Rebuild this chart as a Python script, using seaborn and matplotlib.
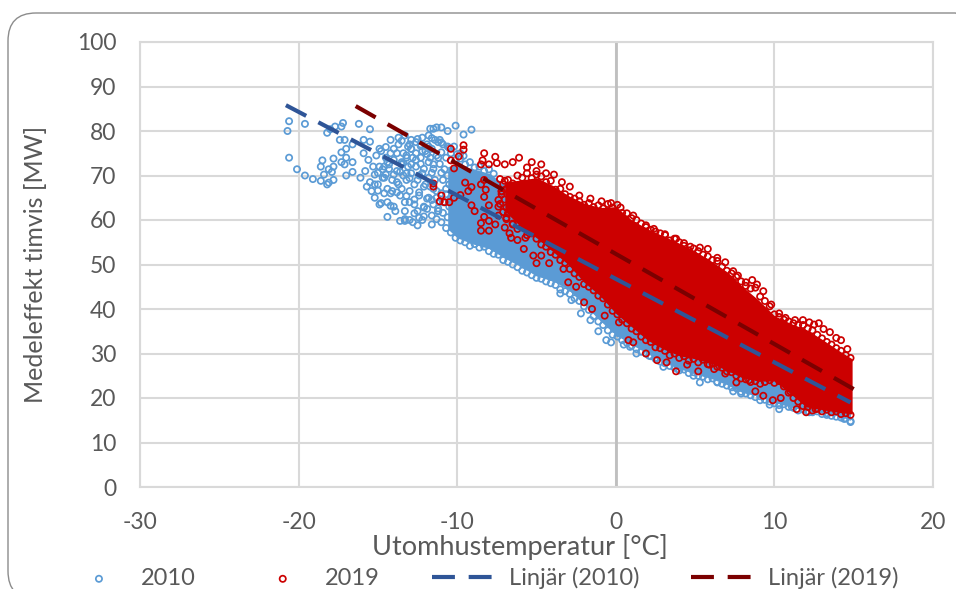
import matplotlib.pyplot as plt
import pandas as pd
import seaborn as sns
from matplotlib.patches import FancyBboxPatch
from matplotlib.transforms import IdentityTransform

# single points, sparse parts of the clouds
blue_x = [-20.7, -20.6, -19.6, -20.6, -20.1, -19.6, -19.1, -18.6, -18.2, -18.2, -18.0, -17.7, -17.2, -17.3, -17.4, -17.1,
          -16.2, -15.5, -18.5, -18.6, -18.1, -17.8, -17.8, -17.3, -17.0, -18.4, -17.9, -17.8, -18.1, -17.0, -17.3, -17.0,
          -16.6, -17.1, -16.6, -15.9, -15.5, -16.6, -14.9, -14.5, -14.2, -13.7, -13.3, -12.9, -12.6, -12.2, -11.8, -11.5,
          -11.3, -11.1, -10.9, -10.6, -10.1, -9.6, -9.1, -15.9, -15.6, -15.3, -15.1, -14.8, -14.5, -14.3, -14.0, -13.7,
          -13.4, -13.1, -16.1, -15.8, -15.5, -15.2, -14.9, -14.6, -14.3, -14.0, -13.8, -13.5, -13.2, -12.9, -15.7, -15.4,
          -15.0, -14.7, -14.4, -14.1, -13.8, -13.5, -13.2, -12.9, -12.6, -15.2, -14.9, -14.6, -14.4, -14.1, -13.8, -13.5,
          -13.2, -12.9, -12.6, -12.3, -14.8, -14.4, -14.2, -13.9, -13.6, -13.3, -13.0, -12.7, -12.4, -12.1, -11.8, -14.0,
          -13.6, -13.3, -13.0, -12.7, -12.4, -12.1, -11.8, -11.5, -11.2, -13.3, -13.0, -12.7, -12.4, -12.1, -11.8, -11.5,
          -12.8, -12.5, -12.2, -11.9, -11.6, -11.3, -14.2, -13.7, -13.4, -13.1, -12.6, -12.2, -14.6, -13.2, -12.9, -12.3,
          -12.0, -11.7, -13.3, -12.5, -12.1, -11.6, -11.2, -10.9, -11.8, -11.4, -11.0, -10.6, -10.2, -9.8, -11.7, -11.2,
          -3.5, -2.8, -2.2, -1.6, -1.1, -0.6, -0.3, 0.2, 0.5, 0.9, 1.3, 1.7, 2.1, 2.6, 3.0, 3.4, 3.9, 4.4, 4.9, 5.3, 5.7,
          5.9, 6.4, 6.9, 7.4, 7.9, 8.4, 9.1, 9.7, 10.3, 11.1, 12.2, 13.3, 14.4, 14.8]
blue_y = [80.0, 82.2, 81.6, 74.0, 71.4, 70.0, 69.2, 68.8, 68.0, 79.6, 80.4, 81.0, 81.8, 81.0, 78.0, 78.0,
          81.6, 80.4, 73.4, 72.0, 71.4, 72.0, 73.8, 75.2, 76.0, 70.2, 70.8, 69.0, 68.4, 70.0, 73.0, 74.0,
          73.0, 72.5, 70.8, 78.0, 77.6, 77.0, 76.0, 76.4, 78.0, 78.5, 79.0, 78.0, 77.5, 78.5, 79.0, 80.5,
          80.8, 78.0, 77.0, 76.5, 81.2, 79.2, 80.3, 75.0, 73.5, 72.0, 74.5, 75.5, 74.0, 72.5, 76.0, 77.0,
          75.0, 76.5, 69.5, 71.0, 68.5, 70.2, 72.0, 69.5, 71.5, 73.5, 75.0, 73.0, 74.5, 76.0, 67.5, 66.5,
          68.0, 69.5, 67.0, 69.0, 71.0, 72.5, 70.5, 72.5, 75.0, 65.0, 63.5, 66.0, 64.0, 66.5, 68.5, 67.0,
          69.0, 70.5, 72.0, 74.0, 63.8, 60.7, 63.2, 62.0, 65.5, 64.0, 66.5, 68.0, 70.0, 71.5, 73.0, 63.0,
          59.8, 62.0, 60.0, 63.5, 65.5, 67.5, 69.5, 71.5, 74.0, 59.8, 64.0, 61.5, 60.5, 63.0, 65.0, 67.0,
          59.5, 62.0, 60.0, 62.5, 64.5, 66.5, 66.0, 68.0, 70.0, 72.0, 73.5, 75.5, 72.0, 74.0, 76.0, 77.0,
          75.5, 74.0, 60.2, 58.8, 60.8, 59.0, 62.0, 64.0, 76.5, 78.0, 80.8, 80.0, 76.5, 75.0, 80.5, 77.5,
          43.5, 42.0, 39.0, 37.5, 35.0, 33.0, 32.5, 34.5, 32.0, 31.5, 30.0, 33.5, 29.5, 29.0, 27.0, 30.0,
          26.5, 28.0, 25.0, 23.5, 25.5, 26.0, 23.5, 24.5, 21.5, 21.0, 23.0, 19.5, 18.5, 17.5, 18.0, 16.8, 16.2, 15.3, 14.6]

# lower rim of the 2010 cloud
blue_low_x = [-11, -10.7, -10.4, -10.1, -9.8, -9.5, -9.2, -8.9, -8.6, -8.3, -8, -7.7, -7.4, -7.1, -6.8, -6.5, -6.2, -5.9,
              -5.6, -5.3, -5, -4.7, -4.4, -4.1, -3.8, -3.5, -3.2, -2.9, -2.6, -2.3, -2, -1.7, -1.4, -1.1, -0.8, -0.5, -0.2,
              0.1, 0.4, 0.7, 1, 1.3, 1.6, 1.9, 2.2, 2.5, 2.8, 3.1, 3.4, 3.7, 4, 4.3, 4.6, 4.9, 5.2, 5.5, 5.8, 6.1, 6.4, 6.7,
              7, 7.3, 7.6, 7.9, 8.2, 8.5, 8.8, 9.1, 9.4, 9.7, 10, 10.3, 10.6, 10.9, 11.2, 11.5, 11.8, 12.1, 12.4, 12.7, 13,
              13.3, 13.6, 13.9, 14.2, 14.5, 14.8]
blue_low_y = [59.5, 58.2, 57.2, 56, 55.4, 55, 54.2, 54.6, 53.8, 54, 53, 52.4, 52.2, 51, 50.6, 50, 49.4, 48.6,
              48.2, 47.6, 47, 46.8, 46.2, 45.8, 45.4, 44.4, 44, 43.4, 42.4, 41.8, 40.6, 39.8, 38.4, 37.2, 36.4, 35.2, 34.2,
              33.8, 33, 32.4, 31.8, 31, 30.4, 30, 29.4, 28.8, 28.2, 27.8, 27.2, 26.8, 26.2, 26.4, 25.6, 25.8, 25, 24.8, 24.2, 24.4, 23.6, 23.2,
              22.8, 22.4, 22.2, 21.4, 21, 20.6, 20.2, 20.4, 19.6, 19.2, 18.8, 18.4, 18.6, 18, 17.8, 17.2, 17.4, 17, 16.8, 17, 16.4,
              16.6, 16, 15.8, 15.6, 15.4, 14.8]

# denser left part of the 2010 cloud
blue_top_x = [-11.6, -11.3, -11, -10.7, -10.4, -10.1, -9.8, -9.5, -9.2, -8.9, -8.6, -8.3, -8, -7.7, -11.5, -11.6, -11.4,
              -11.7, -11.3, -11.5, -11.2, -11.6, -12, -12.2, -11.9, -12.1, -12.4, -12.7, -12.5, -13, -13.4, -13.6, -14,
              -14.4, -14.7, -15, -12.8, -12.3, -11.9, -12.3, -11.9, -13, -13.5, -14.2, -12.5, -11.6, -11, -10.5, -10, -9.6,
              -13.8, -13.2, -14.5, -15.2, -15,
              -11.1, -10.8, -10.6, -10.9, -10.5, -10.7, -11, -10.4, -10.8, -10.5, -11.2, -10.9, -10.6, -11.3, -11, -10.7]
blue_top_y = [76, 74.5, 75.2, 74, 75, 73.5, 73.8, 72.5, 73, 71.8, 72, 71, 71.4, 70.4, 72.5, 70.6, 69,
              67.5, 65, 63.5, 62, 61, 68, 70.5, 64.8, 62.8, 66.2, 64.6, 69, 69.4, 72.8, 70.8, 70.2,
              73, 71.4, 70.6, 74, 72.6, 74.8, 76.6, 77, 77, 77.8, 75, 78.2, 78.4, 77.4, 76.2, 74.8, 74.4,
              66.2, 65.4, 70.2, 68, 66.6,
              72.6, 71.4, 70, 69, 68, 67, 66, 65, 64, 63, 62.6, 61.6, 60.6, 60.2, 70.6, 65.8]

red_x = [-10.4, -9.6, -9.6, -9.9, -10.4, -10.2, -8.3, -8.4, -8.5, -8.0, -7.6, -7.5, -7.0, -6.5, -6.1, -5.3, -4.7,
         -5.6, -5.0, -11.5, -11.5, -11.0, -11.1, -10.8, -10.5, -10.2, -9.8, -9.5, -9.1, -9.3, -9.1, -8.9, -8.3, -8.5,
         -8.2, -8.3, -8.0, -8.3, -8.5, -8.0, -8.5, -8.0, -7.6, -7.4, -7.4, -7.0, -6.7, -6.6, -6.2, -5.7, -5.8, -5.2,
         -4.7, -5.0, -4.2, -3.3, -7.2, -6.9, -6.5, -4.4, -3.9, -3.4, -2.9, -2.3, -1.6, -0.9, -0.3, 0.3,
         1.1, 1.9, 2.4, 3.1, 3.8, 4.3, 4.7, 5.3, 5.8, 6.4, 6.9, 7.4, 7.7, 8.2, 8.6, 8.9, 9.3, 9.8, 10.3, 10.7, 11.3,
         11.8, 12.2, 12.5, 12.8, 13.1, 13.5, 13.9, 14.2, 14.6,
         -3.0, -2.5, -2.0, -1.5, -0.7, 0.2, 0.8, 1.1, 1.9, 2.6, 3.2, 3.8, 4.5, 5.2, 5.9, 6.2, 6.9, 7.6, 8.4, 8.8, 9.3,
         9.9, 10.4, 11.0, 11.4, 12.0, 12.6, 13.2,
         -7.3, -7.1, -6.9, -7.2, -7.0, -7.3, -6.9, -7.1, -7.4, -7.0, -7.2, -6.9]
red_y = [76.0, 76.8, 75.8, 74.3, 73.4, 71.6, 75.0, 73.4, 72.5, 72.5, 74.2, 72.8, 72.5, 73.0, 74.0, 73.0, 72.5,
         71.8, 71.0, 68.2, 67.5, 65.5, 64.2, 64.0, 64.0, 65.0, 65.6, 68.4, 67.4, 66.5, 63.3, 62.0, 69.0, 68.0,
         66.8, 65.2, 63.3, 60.7, 59.3, 59.8, 57.6, 57.6, 59.0, 63.0, 64.5, 58.3, 57.0, 56.0, 55.5, 56.0, 53.5, 52.0,
         52.0, 50.3, 50.3, 49.0, 66.5, 60.5, 59.0, 70.5, 70.2, 68.5, 67.5, 65.5, 64.8, 64.2, 63.8, 62.8,
         61.0, 58.8, 58.0, 56.8, 55.8, 54.8, 54.0, 53.8, 53.5, 51.5, 50.5, 48.5, 47.5, 46.0, 46.5, 45.5, 44.0, 41.0,
         39.0, 38.0, 37.5, 37.5, 37.0, 36.5, 36.8, 35.5, 34.8, 33.5, 33.0, 31.0,
         46.0, 45.0, 41.5, 40.0, 38.5, 37.0, 33.0, 32.5, 30.0, 28.5, 28.0, 26.0, 27.5, 26.0, 27.5, 26.5, 25.5, 23.5,
         24.0, 21.5, 20.5, 19.5, 20.0, 21.5, 17.5, 16.8, 17.5, 18.0,
         69.2, 68, 67, 65.8, 64.6, 63.6, 62.8, 61.8, 61, 68.8, 66.4, 60.2]

# upper and lower rim of the 2019 cloud
red_rim_x = [-6.8, -6.5, -6.2, -5.9, -5.6, -5.3, -5, -4.7, -4.4, -4.1, -3.8, -3.5, -3.2, -2.9, -2.6, -2.3, -2, -1.7, -1.4,
             -1.1, -0.8, -0.5, -0.2, 0.1, 0.4, 0.7, 1, 1.3, 1.6, 1.9, 2.2, 2.5, 2.8, 3.1, 3.4, 3.7, 4, 4.3, 4.6, 4.9, 5.2,
             5.5, 5.8, 6.1, 6.4, 6.7, 7, 7.3, 7.6, 7.9, 8.2, 8.5, 8.8, 9.1, 9.4, 9.7, 10, 10.3, 10.6, 10.9, 11.2, 11.5, 11.8,
             12.1, 12.4, 12.7, 13, 13.3, 13.6, 13.9, 14.2, 14.5, 14.8]
red_rim_high = [69, 68.2, 70, 69.5, 70.5, 69.4, 70.2, 69.8, 68.5, 68.8, 66.8, 67, 65.8, 65.2, 64.8, 64.2, 63.4, 63.8, 62.9,
                63.3, 62.6, 63.6, 62.8, 63.4, 61.6, 61.5, 60.4, 60, 59.2, 58.4, 57.8, 57.4, 57, 56.6, 55.4, 55.8, 55, 54.2, 53.2, 53.6, 53,
                52.2, 51.8, 51, 50.8, 49.5, 48.6, 48, 47.2, 46.2, 45.2, 44.6, 44.8, 42.8, 41.8, 40.6, 38.8, 38.2, 37.6, 37.2, 36.8, 36.4, 36.4,
                35.6, 35.2, 34.2, 33.4, 32.6, 32, 31.2, 30.6, 29.6, 29]
red_rim_low = [61.5, 59.2, 58, 58.5, 56.6, 57, 55.8, 54.5, 54, 52.8, 52.2, 51, 50.4, 49, 48, 47.2, 45.6, 45, 44.2,
               43, 42.4, 41, 39.6, 38.8, 37.6, 36.8, 35.6, 35, 33.8, 33, 32.6, 31.4, 31.2, 30.6, 29.6, 30, 29, 29.4, 28.4, 28.8, 28,
               28.6, 27.6, 27.8, 27, 26.8, 26, 25.8, 25, 24.4, 24.2, 23.6, 23.8, 23.2, 23.6, 24, 23.4, 23.8, 22.6, 21.2, 20, 19.2, 18.2,
               18, 17.2, 17.6, 17, 17.4, 16.8, 17, 16.4, 16.6, 16.2]

# outline of the parts where the rings run together into a solid area
red_core_x = [-7, -6, -5, -4, -3, -2, -1, 0, 1, 2, 3, 4, 5, 6, 7, 8, 9, 10, 11, 12, 13, 14, 14.9]
red_core_low = [62, 58.5, 56, 53, 50, 46, 43, 39, 36, 33, 31, 29.5, 28.8, 27.8, 26.2, 24.5, 23.8, 23.8, 21, 18, 17.4, 16.8, 16.4]
red_core_high = [68.5, 69, 69.5, 67.8, 65.5, 63.8, 62.8, 63, 60, 58, 56.4, 54.8, 53, 50.8, 48.4, 45, 42, 38.5, 36.8, 35.4, 33.2, 30.8, 28.8]

blue_core_x = [-10.6, -10, -9, -8, -7, -6, -5, -4, -3, -2, -1, 0, 1, 2, 3, 4, 5, 6, 7, 8, 9, 10, 11, 12, 14, 14.8]
blue_core_low = [58, 56, 54.6, 53.6, 51.4, 49.6, 47.4, 46.4, 44.4, 41, 37.4, 34.2, 32, 30, 28, 26.6, 25.4, 24.4, 23, 21.2, 20.4, 19, 18, 17.2, 16, 15]
blue_core_high = [72, 72.5, 71.5, 70.5, 68, 65, 62, 60, 58, 56, 54, 52, 50, 48, 46, 44, 42, 40, 38, 36, 34, 32, 30, 28, 26, 25]

# trend lines
trend_2010_x = [-20.8, 14.8]
trend_2010_y = [85.8, 19.0]
trend_2019_x = [-16.4, 15.0]
trend_2019_y = [85.6, 22.0]

BLUE = "#5B9BD5"
RED = "#CC0000"
GREY = "#595959"

sns.set_theme(style="whitegrid")
plt.rcParams["font.family"] = ["Lato", "DejaVu Sans"]
plt.rcParams["axes.unicode_minus"] = False

fig = plt.figure(figsize=(9.56, 5.89), dpi=100)
ax = fig.add_axes([140 / 956, 1 - 487 / 589, 793 / 956, 445 / 589])

fig.add_artist(FancyBboxPatch((8, -10), 975, 586, boxstyle="round,pad=0,rounding_size=28",
                              transform=IdentityTransform(), fc="none", ec="#8C8C8C", lw=1))

ring = dict(marker="o", s=20, facecolor="none", linewidth=1.25)
ax.fill_between(blue_core_x, blue_core_low, blue_core_high, color=BLUE, lw=0, zorder=2)
sns.scatterplot(x=blue_x + blue_low_x + blue_top_x, y=blue_y + blue_low_y + blue_top_y, ax=ax,
                edgecolor=BLUE, label="2010", zorder=3, **ring)
ax.fill_between(red_core_x, red_core_low, red_core_high, color=RED, lw=0, zorder=4)
sns.scatterplot(x=red_x + red_rim_x + red_rim_x, y=red_y + red_rim_high + red_rim_low, ax=ax,
                edgecolor=RED, label="2019", zorder=5, **ring)

trend = pd.DataFrame({"x": trend_2010_x, "y": trend_2010_y})
sns.lineplot(data=trend, x="x", y="y", ax=ax, color="#2F5597", lw=3, dashes=(5.5, 3.3), zorder=6, label="Linjär (2010)")
trend = pd.DataFrame({"x": trend_2019_x, "y": trend_2019_y})
sns.lineplot(data=trend, x="x", y="y", ax=ax, color="#7B0000", lw=3, dashes=(5.5, 3.3), zorder=7, label="Linjär (2019)")

ax.set_xlim(-30, 20)
ax.set_ylim(0, 100)
ax.set_xticks(range(-30, 21, 10))
ax.set_yticks(range(0, 101, 10))
ax.grid(color="#D9D9D9", lw=1.5)
ax.set_axisbelow(True)
ax.axvline(0, color="#BFBFBF", lw=2, zorder=1)
for s in ax.spines.values():
    s.set_color("#D9D9D9")
    s.set_linewidth(1.5)
ax.tick_params(labelsize=16.5, colors=GREY, length=0)
ax.tick_params(axis="x", pad=18)
ax.tick_params(axis="y", pad=17)
ax.set_xlabel("Utomhustemperatur [°C]", fontsize=19.5, color=GREY)
ax.xaxis.set_label_coords(0.479, -0.135)
ax.xaxis.label.set_va("center")
ax.set_ylabel("Medeleffekt timvis [MW]", fontsize=18, color=GREY)
ax.yaxis.set_label_coords(-0.132, 0.5)
ax.yaxis.label.set_va("center")

ax.legend(loc="lower left", bbox_to_anchor=(64 / 956, 0), bbox_transform=fig.transFigure, ncol=4,
          fontsize=17, frameon=False, labelcolor=GREY, handlelength=2.96, handletextpad=0.3,
          columnspacing=2.2, borderpad=0, borderaxespad=0)

plt.savefig("out.png", dpi=100)
plt.close()
